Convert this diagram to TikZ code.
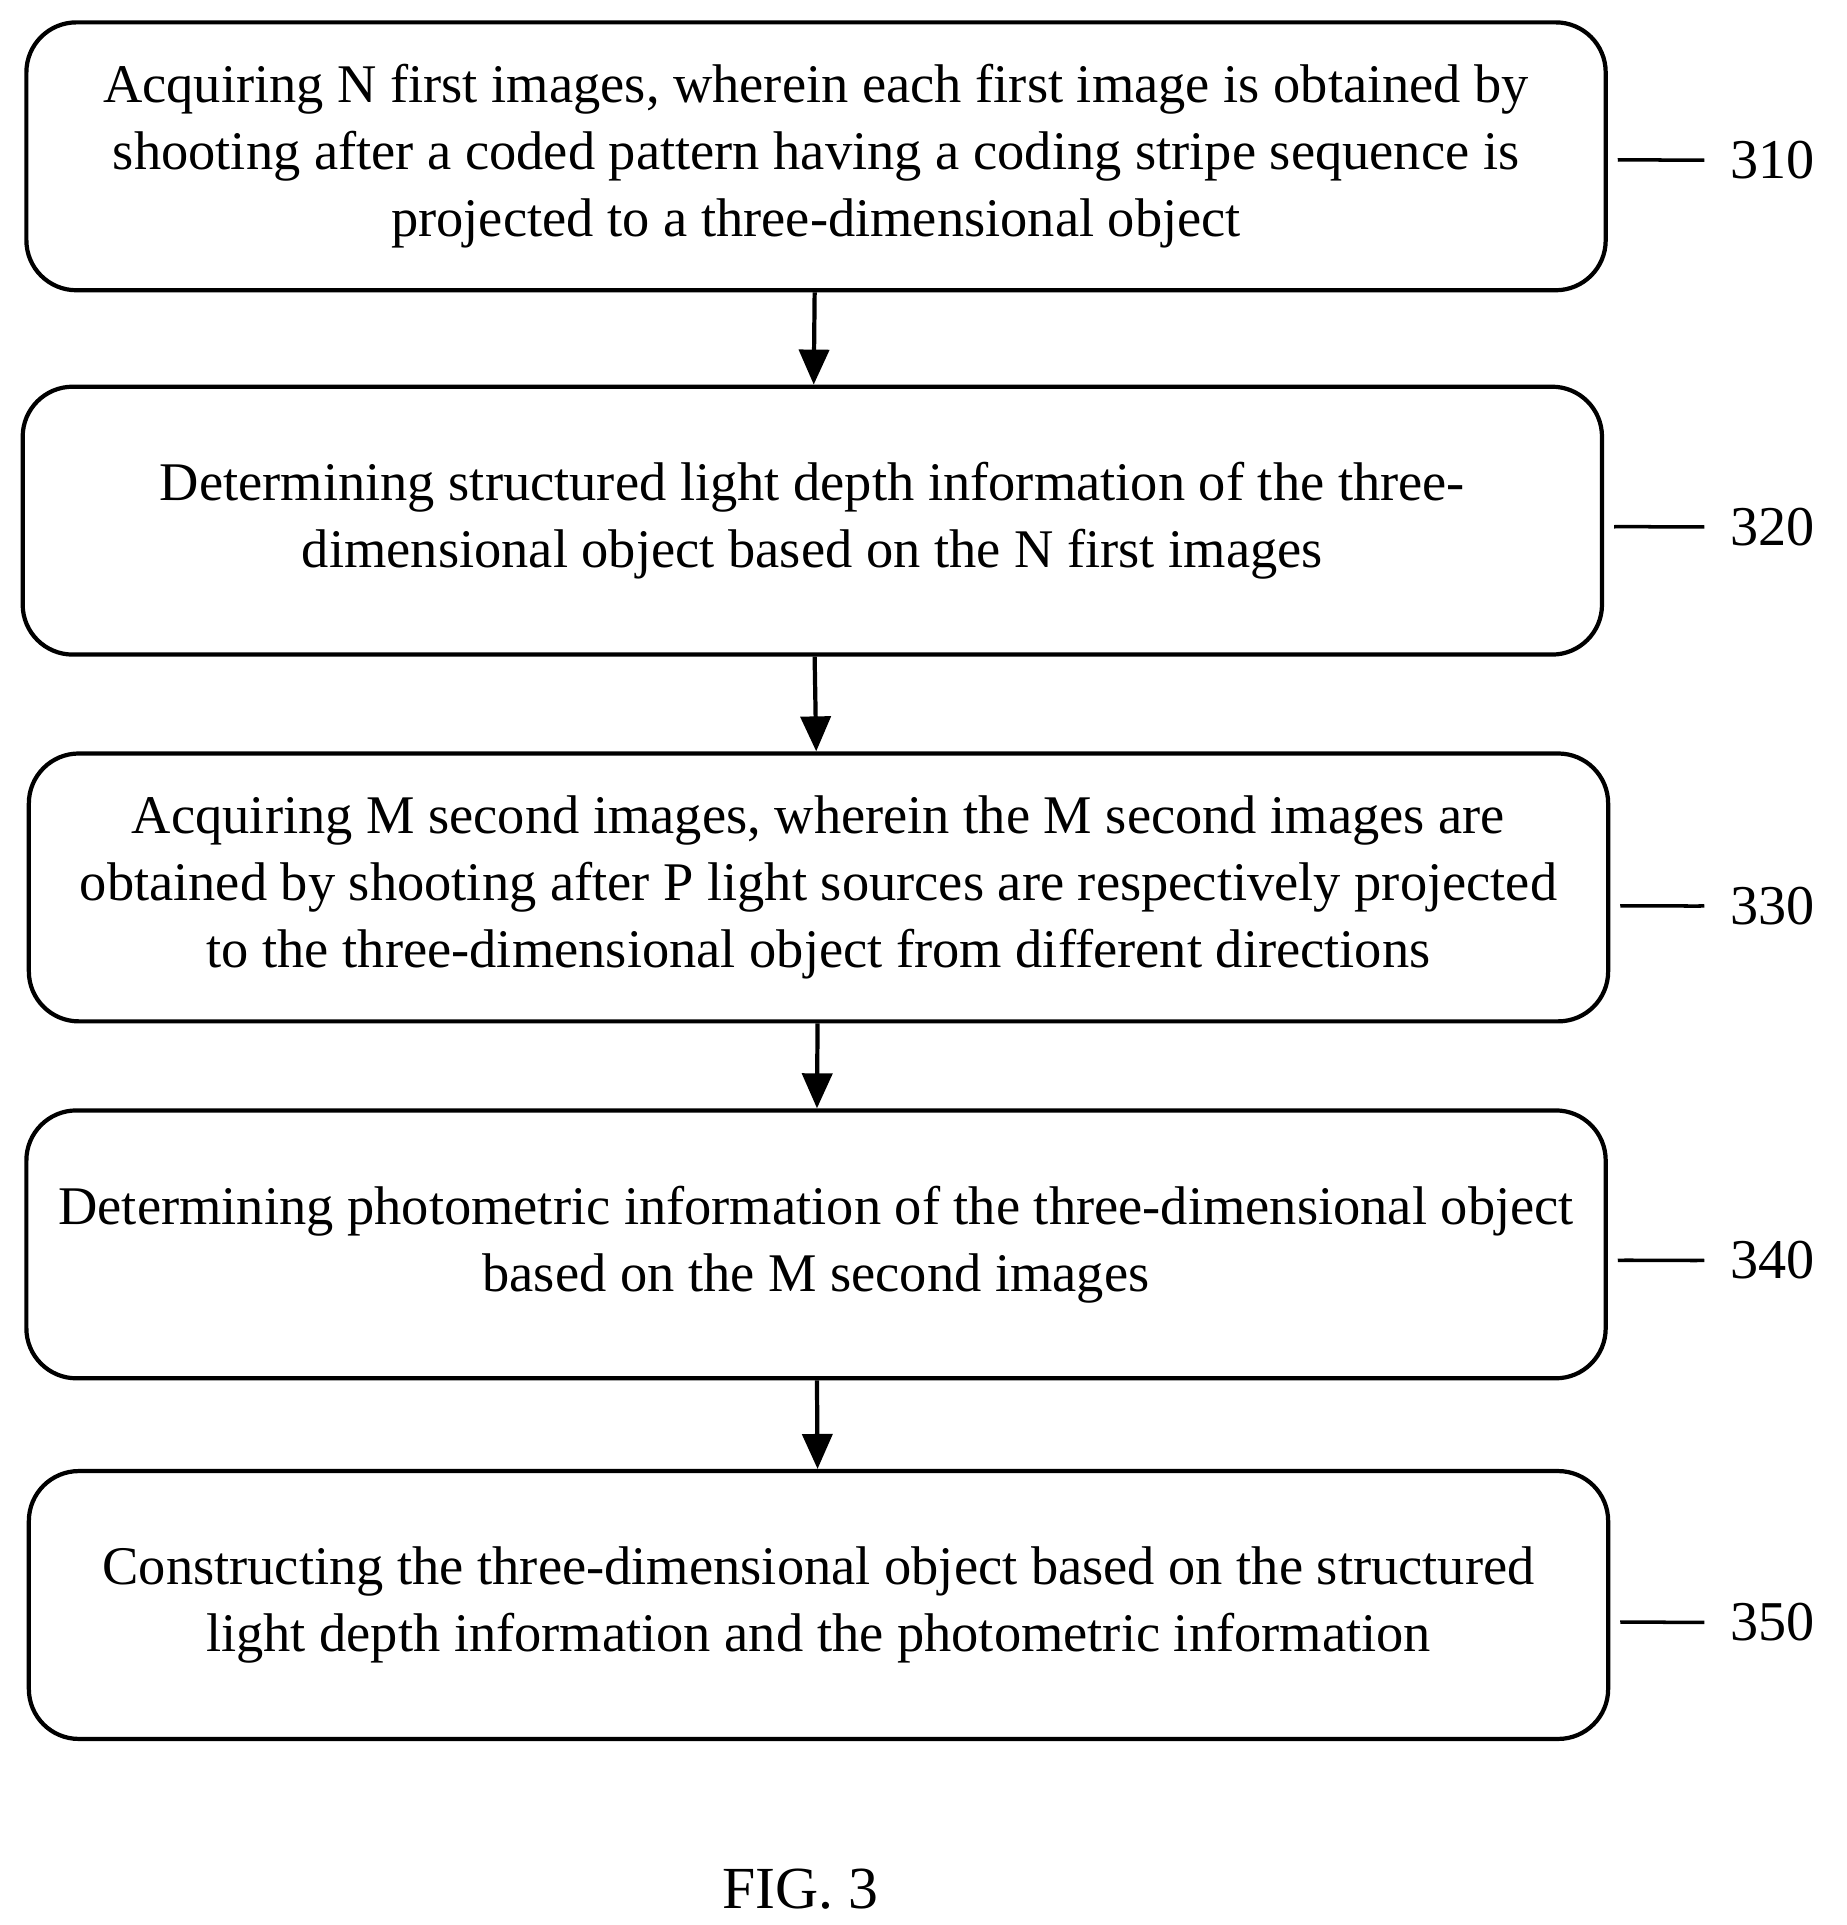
\documentclass[tikz,border=0pt]{standalone}
\usepackage{fontspec}
\setmainfont{Liberation Serif}
\usetikzlibrary{arrows.meta,positioning}

\tikzset{
  stepbox/.style={draw,line width=1.2pt,rounded corners=0.5cm,minimum width=15.8cm,
    minimum height=2.68cm,align=center,font=\fontsize{15.5pt}{19pt}\selectfont},
  tag/.style={font=\fontsize{16pt}{19pt}\selectfont,anchor=west,inner sep=0pt},
  flow/.style={-{Triangle[length=0.35cm,width=0.3cm]},line width=1.2pt},
  wave/.style={line width=1pt}
}

\begin{document}
\begin{tikzpicture}[x=0.01231cm,y=-0.01231cm]
    \useasboundingbox (0,0) rectangle (1500,1564);
    % steps
    \node[stepbox] (s310) at (663,127) {Acquiring N first images, wherein each first image is obtained by\\shooting after a coded pattern having a coding stripe sequence is\\projected to a three-dimensional object};
    \node[stepbox] (s320) at (660,423) {Determining structured light depth information of the three-\\dimensional object based on the N first images};
    \node[stepbox] (s330) at (665,721) {Acquiring M second images, wherein the M second images are\\obtained by shooting after P light sources are respectively projected\\to the three-dimensional object from different directions};
    \node[stepbox] (s340) at (663,1011) {Determining photometric information of the three-dimensional object\\based on the M second images};
    \node[stepbox] (s350) at (665,1304) {Constructing the three-dimensional object based on the structured\\light depth information and the photometric information};
    % arrows
    \draw[flow] (s310) -- (s320);
    \draw[flow] (s320) -- (s330);
    \draw[flow] (s330) -- (s340);
    \draw[flow] (s340) -- (s350);
    % reference numerals
    \foreach \s/\y in {310/130,320/428,330/736,340/1024,350/1318}{
      \node[tag] (t\s) at (1405,\y) {\s};
      \draw[wave] ([xshift=0.1cm]s\s.east |- t\s.west) .. controls +(0.3,-0.35) and +(-0.3,0.35) .. ([xshift=-0.25cm]t\s.west);
    }
    \node[font=\fontsize{17pt}{20pt}\selectfont] (fig) at (650,1535) {FIG. 3};
\end{tikzpicture}
\end{document}
